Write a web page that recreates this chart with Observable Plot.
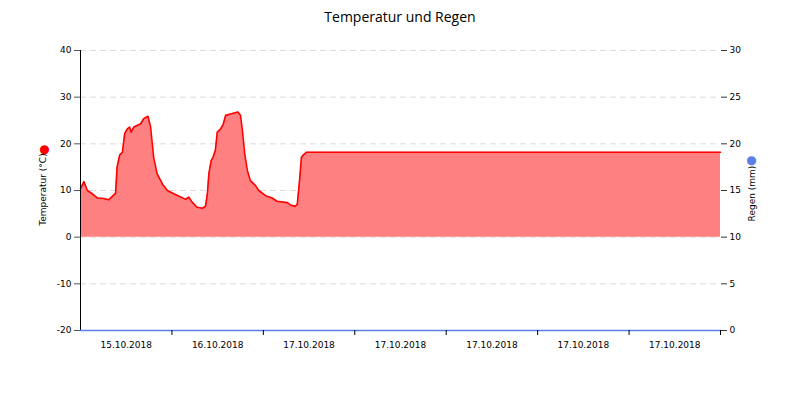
<!DOCTYPE html>
<html>
<head>
<meta charset="utf-8">
<script src="https://cdn.jsdelivr.net/npm/d3@7"></script>
<script src="https://cdn.jsdelivr.net/npm/@observablehq/plot@0.6"></script>
<style>
  body { margin: 0; background: #fff; }
  #wrap { width: 800px; height: 400px; position: relative; }
  #title { height: 34px; line-height: 34px; text-align: center; font-family: "Open Sans", sans-serif; font-size: 14px; color: #000; }
</style>
</head>
<body>
<div id="wrap">
  <div id="title">Temperatur und Regen</div>
  <div id="chart"></div>
</div>
<script>
// hours since start (7 segments of 24h each)
const hours = [0,0.9,1.8,3.1,4.4,6.1,7.4,8.3,9.2,9.6,10.3,11.0,11.6,12.3,12.9,13.3,14.0,15.8,16.6,17.7,18.4,19.2,20.1,21.5,22.8,24.5,26.3,27.6,28.4,29.3,30.6,32.0,32.8,33.3,33.7,34.3,34.8,35.4,35.9,36.8,37.5,38.1,39.4,41.3,42.0,42.5,43.1,43.8,44.6,45.9,46.8,48.6,50.3,51.6,54.3,55.1,56.3,56.9,57.5,58.0,58.6,59.3,168];
const temperature = [10.4,11.9,10.0,9.3,8.4,8.3,8.0,8.7,9.4,15.0,17.6,18.2,22.2,23.2,23.6,22.5,23.6,24.3,25.4,25.9,23.6,17.1,13.6,11.4,10.0,9.3,8.6,8.1,8.6,7.5,6.4,6.2,6.6,9.3,13.6,16.4,17.1,18.6,22.5,23.2,24.3,26.1,26.4,26.8,26.1,22.9,17.9,14.3,12.1,11.1,10.0,8.9,8.4,7.7,7.4,6.9,6.6,7.0,12.1,17.1,17.7,18.2,18.2];
const rainHours = [0,168];
const rain = [0,0];
const dateLabels = ["15.10.2018","16.10.2018","17.10.2018","17.10.2018","17.10.2018","17.10.2018","17.10.2018"];
const tempTicks = [-20,-10,0,10,20,30,40];
const rainTicks = [0,5,10,15,20,25,30];
const segmentHours = 24;

const tempData = hours.map((h,i)=>({h, t: temperature[i]}));
// rain axis 0..30 maps onto temperature axis -20..40
const rainToTemp = r => r*2 - 20;
const rainData = rainHours.map((h,i)=>({h, r: rainToTemp(rain[i])}));
const tickHours = d3.range(1, dateLabels.length + 1).map(i => i*segmentHours);
const labelData = dateLabels.map((l,i)=>({h:(i+0.5)*segmentHours, l}));

const font = "DejaVu Sans, sans-serif";
const chart = Plot.plot({
  width: 800,
  height: 366,
  marginTop: 16,
  marginBottom: 70,
  marginLeft: 80,
  marginRight: 80,
  style: {fontFamily: font, fontSize: "9px", color: "#000", background: "#fff"},
  x: {type: "linear", domain: [0, 168], axis: null},
  y: {type: "linear", domain: [-20, 40], axis: null},
  marks: [
    Plot.ruleY(tempTicks.filter(t=>t>-20), {stroke: "#dcdcdc", strokeDasharray: "6,4", strokeWidth: 1}),
    Plot.areaY(tempData, {x: "h", y1: 0, y2: "t", fill: "#ff8080"}),
    Plot.line(tempData, {x: "h", y: "t", stroke: "#ff0000", strokeWidth: 1.6}),
    // left axis
    Plot.axisY({ticks: tempTicks, tickSize: 6, tickPadding: 3, label: null, stroke: "#555", tickFormat: d=>d}),
    Plot.ruleX([0], {stroke: "#000", strokeWidth: 1}),
    Plot.axisY({anchor: "right", ticks: tempTicks, tickSize: 6, tickPadding: 3, label: null, stroke: "#333", tickFormat: (d,i)=>rainTicks[i]}),
    // bottom axis
    Plot.ruleY([-20], {stroke: "#000", strokeWidth: 1}),
    Plot.line(rainData, {x: "h", y: "r", stroke: "#5b7fe6", strokeWidth: 1.5}),
    Plot.axisX({ticks: tickHours, tickSize: 5, tickFormat: () => "", label: null}),
    Plot.text(labelData, {x: "h", y: () => -20, text: "l", dy: 15, fontSize: 9, fill: "#000"}),
    // axis titles with legend dots
    Plot.text(["Temperatur (°C)"], {frameAnchor: "left", textAnchor: "middle", dx: -37, dy: -1, rotate: -90, fontSize: 9, fill: "#000"}),
    Plot.text(["Regen (mm)"], {frameAnchor: "right", textAnchor: "middle", dx: 32, dy: 3, rotate: -90, fontSize: 9, fill: "#000"}),
    Plot.text(["●"], {frameAnchor: "left", textAnchor: "middle", dx: -36, dy: -41, fontSize: 12, fill: "#ff0000"}),
    Plot.text(["●"], {frameAnchor: "right", textAnchor: "middle", dx: 31, dy: -30, fontSize: 12, fill: "#5b7fe6"})
  ]
});
document.getElementById("chart").appendChild(chart);
</script>
</body>
</html>
